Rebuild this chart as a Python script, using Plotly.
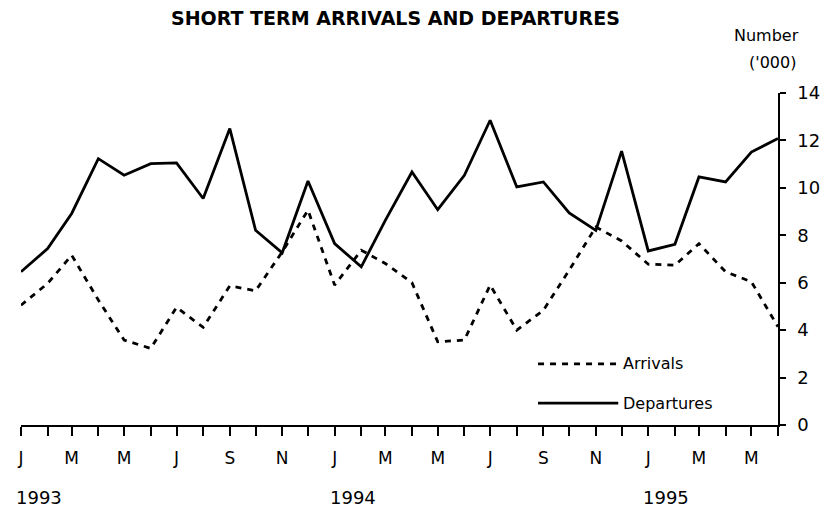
import plotly.graph_objects as go
import pandas as pd

months = pd.date_range("1993-01-01", "1995-06-01", freq="MS")
departures = [6.46, 7.44, 8.92, 11.23, 10.53, 11.02, 11.05, 9.55, 12.5, 8.21, 7.26, 10.29,
              7.65, 6.67, 8.63, 10.67, 9.08, 10.53, 12.85, 10.04, 10.25, 8.94, 8.21, 11.55,
              7.34, 7.62, 10.46, 10.25, 11.51, 12.08]
arrivals = [5.05, 5.97, 7.16, 5.27, 3.58, 3.23, 4.96, 4.12, 5.87, 5.66, 7.3, 9.06,
            5.9, 7.37, 6.81, 6.0, 3.51, 3.58, 5.9, 4.0, 4.84, 6.53, 8.35, 7.76,
            6.78, 6.74, 7.65, 6.46, 6.04, 4.14]
month_letters = ["J", "F", "M", "A", "M", "J", "J", "A", "S", "O", "N", "D"]
years = ["1993", "1994", "1995"]
y_ticks = [0, 2, 4, 6, 8, 10, 12, 14]

tick_text = [month_letters[d.month - 1] if i % 2 == 0 else "" for i, d in enumerate(months)]

FONT = "DejaVu Sans"
fig = go.Figure()
fig.add_trace(go.Scatter(x=months, y=arrivals, mode="lines", name="Arrivals",
                         line=dict(color="black", width=2.8, dash="6px,6px")))
fig.add_trace(go.Scatter(x=months, y=departures, mode="lines", name="Departures",
                         line=dict(color="black", width=2.8)))

# page body has an 8px margin, so the figure is sized/placed to compensate
fig.update_layout(
    width=823, height=500,
    margin=dict(l=9, r=53, t=85, b=83),
    paper_bgcolor="white", plot_bgcolor="white",
    showlegend=False,
    font=dict(family=FONT, color="black", size=17),
)
fig.update_xaxes(
    range=[months[0], months[-1]],
    tickvals=list(months), ticktext=tick_text,
    ticks="outside", ticklen=9, tickwidth=1.5, tickcolor="black",
    showline=True, linecolor="black", linewidth=1.5,
    showgrid=False, zeroline=False, ticklabelstandoff=8,
    tickfont=dict(size=17, family=FONT),
)
fig.update_yaxes(
    range=[0, 14], side="right", tickvals=y_ticks,
    ticks="outside", ticklen=6, tickwidth=1.5, tickcolor="black",
    showline=True, linecolor="black", linewidth=1.5,
    showgrid=False, zeroline=False, ticklabelstandoff=8,
    tickfont=dict(size=18, family=FONT),
)

# Title and units
fig.add_annotation(text="<b>SHORT TERM ARRIVALS AND DEPARTURES</b>", xref="paper", yref="paper",
                   x=0.495, y=1.0, yshift=75, xanchor="center", yanchor="middle",
                   showarrow=False, font=dict(size=19, family=FONT))
fig.add_annotation(text="Number", xref="paper", yref="paper", x=1.0, xshift=23, y=1.0, yshift=58,
                   xanchor="right", yanchor="middle", showarrow=False, font=dict(size=16, family=FONT))
fig.add_annotation(text="('000)", xref="paper", yref="paper", x=1.0, xshift=20, y=1.0, yshift=31,
                   xanchor="right", yanchor="middle", showarrow=False, font=dict(size=16, family=FONT))

# Year labels
for yr in years:
    fig.add_annotation(text=yr, x=pd.Timestamp(f"{yr}-01-01"), xref="x", yref="paper",
                       y=0, yshift=-72, xanchor="left", xshift=-7, yanchor="middle",
                       showarrow=False, font=dict(size=18, family=FONT))

# Custom legend
legend_items = [("Arrivals", "6px,6px", 0.184), ("Departures", "solid", 0.066)]
for name, dash, ypos in legend_items:
    fig.add_shape(type="line", xref="paper", yref="paper", x0=0.683, x1=0.789, y0=ypos, y1=ypos,
                  line=dict(color="black", width=2.8, dash=dash))
    fig.add_annotation(text=name, xref="paper", yref="paper", x=0.793, y=ypos, xanchor="left",
                       yanchor="middle", showarrow=False, font=dict(size=16, family=FONT))

fig.write_html("out.html")
